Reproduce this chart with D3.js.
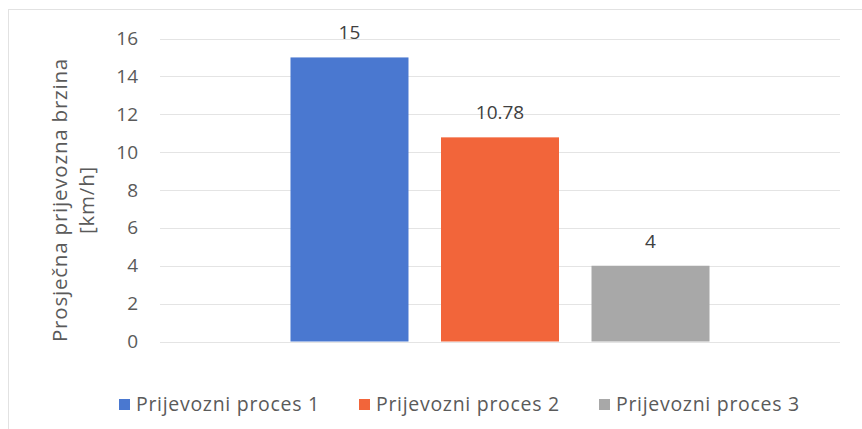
<!DOCTYPE html>
<html>
<head>
<meta charset="utf-8">
<script src="https://cdn.jsdelivr.net/npm/d3@7"></script>
<style>
  body { margin: 0; background: #fff; }
  svg { display: block; font-family: "Open Sans", Lato, sans-serif; }
</style>
</head>
<body>
<svg width="862" height="429"></svg>
<script>
// podaci
const series = ["Prijevozni proces 1", "Prijevozni proces 2", "Prijevozni proces 3"];
const values = [15, 10.78, 4];
const labels = ["15", "10.78", "4"];
const colors = ["#4a78d0", "#f2653a", "#a8a8a8"];
const yTicks = [0, 2, 4, 6, 8, 10, 12, 14, 16];
const yTitle = ["Prosječna prijevozna brzina", "[km/h]"];

const svg = d3.select("svg");
const textColor = "#5a5a5a";

// okvir grafikona
svg.append("rect")
    .attr("x", 8.5).attr("y", 9.5)
    .attr("width", 860).attr("height", 425)
    .attr("fill", "none")
    .attr("stroke", "#e2e2e2");

const plot = { left: 160, right: 840, top: 38.5, bottom: 341.5 };

const y = d3.scaleLinear().domain([0, 16]).range([plot.bottom, plot.top]);
const x = d3.scaleBand().domain(series)
    .range([plot.left, plot.right])
    .paddingInner(0.216)
    .paddingOuter(0.867);

// mreža
svg.append("g")
    .selectAll("line")
    .data(yTicks)
    .enter().append("line")
    .attr("x1", plot.left).attr("x2", plot.right)
    .attr("y1", d => Math.round(y(d)) + 0.5)
    .attr("y2", d => Math.round(y(d)) + 0.5)
    .attr("stroke", "#e4e4e4")
    .attr("stroke-width", 1);

// os y
const yAxis = svg.append("g")
    .attr("transform", `translate(${plot.left},0)`)
    .call(d3.axisLeft(y).tickValues(yTicks).tickSize(0).tickPadding(22));
yAxis.select(".domain").remove();
yAxis.selectAll("text")
    .attr("font-size", "19px")
    .attr("font-family", "'Open Sans', sans-serif")
    .attr("fill", textColor);

// naslov osi y
const title = svg.append("text")
    .attr("transform", `translate(67,${(plot.top + plot.bottom) / 2 + 10}) rotate(-90)`)
    .attr("text-anchor", "middle")
    .attr("font-size", "20.5px")
    .attr("letter-spacing", "0.8px")
    .attr("fill", textColor);
title.selectAll("tspan")
    .data(yTitle)
    .enter().append("tspan")
    .attr("x", 0)
    .attr("dy", (d, i) => i === 0 ? 0 : "1.3em")
    .text(d => d);

// stupci
svg.append("g")
    .selectAll("rect")
    .data(values)
    .enter().append("rect")
    .attr("x", (d, i) => x(series[i]))
    .attr("y", d => y(d))
    .attr("width", x.bandwidth())
    .attr("height", d => y(0) - y(d))
    .attr("fill", (d, i) => colors[i]);

// oznake vrijednosti
svg.append("g")
    .selectAll("text")
    .data(values)
    .enter().append("text")
    .attr("x", (d, i) => x(series[i]) + x.bandwidth() / 2)
    .attr("y", d => y(d) - 18)
    .attr("text-anchor", "middle")
    .attr("font-size", "19px")
    .attr("fill", "#404040")
    .text((d, i) => labels[i]);

// legenda
const legendX = [119, 359, 599];
const legend = svg.append("g")
    .selectAll("g")
    .data(series)
    .enter().append("g")
    .attr("transform", (d, i) => `translate(${legendX[i]},404)`);
legend.append("rect")
    .attr("x", 0).attr("y", -5)
    .attr("width", 11).attr("height", 11)
    .attr("fill", (d, i) => colors[i]);
legend.append("text")
    .attr("x", 17).attr("y", 7)
    .attr("font-size", "19.5px")
    .attr("letter-spacing", "0.7px")
    .attr("fill", textColor)
    .text(d => d);
</script>
</body>
</html>
